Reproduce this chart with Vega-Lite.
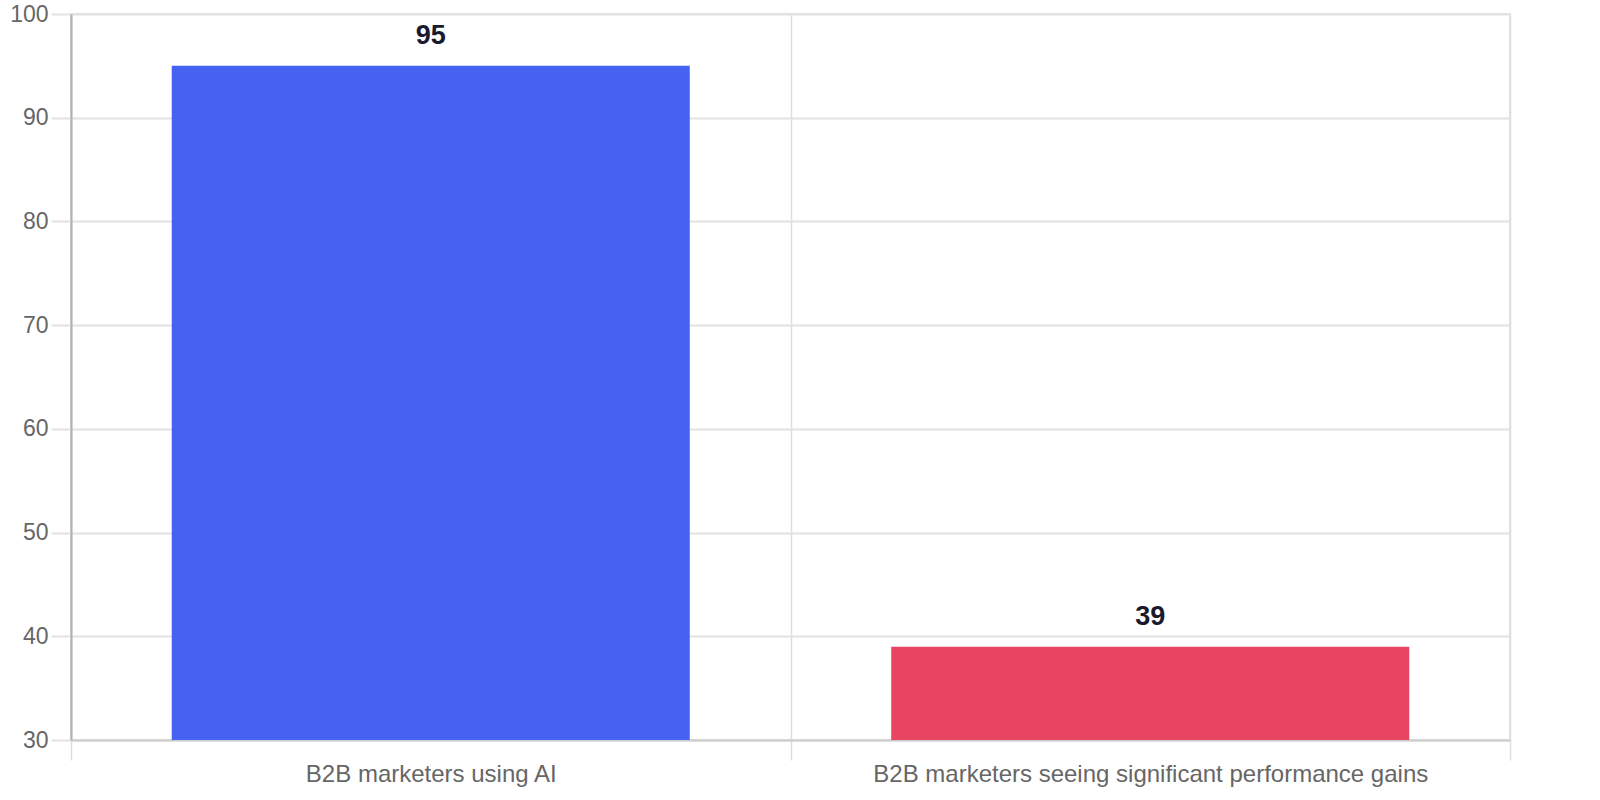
{
  "$schema": "https://vega.github.io/schema/vega-lite/v6.json",
  "autosize": {"type": "none"},
  "padding": {"left": 71, "top": 14, "right": 90, "bottom": 60},
  "width": 1439,
  "height": 726,
  "data": {
    "values": [
      {"group": "B2B marketers using AI", "value": 95},
      {"group": "B2B marketers seeing significant performance gains", "value": 39}
    ]
  },
  "encoding": {
    "x": {
      "field": "group",
      "type": "nominal",
      "sort": null,
      "title": null,
      "scale": {"paddingInner": 0, "paddingOuter": 0},
      "axis": {
        "tickBand": "extent",
        "grid": true,
        "gridColor": "#dddddd",
        "gridWidth": 1.5,
        "tickColor": "#dddddd",
        "tickWidth": 1.5,
        "tickSize": 20,
        "domainColor": "#cccccc",
        "domainWidth": 2,
        "labelAngle": 0,
        "labelLimit": 0,
        "labelFont": "Liberation Sans",
        "labelFontSize": 24,
        "labelColor": "#666666",
        "labelPadding": 2
      }
    },
    "y": {
      "field": "value",
      "type": "quantitative",
      "title": null,
      "scale": {"domain": [30, 100], "nice": false, "zero": false},
      "axis": {
        "values": [30, 40, 50, 60, 70, 80, 90, 100],
        "grid": true,
        "gridColor": "#e2e2e2",
        "gridWidth": 2,
        "tickColor": "#e2e2e2",
        "tickWidth": 2,
        "tickSize": 20,
        "domainColor": "#b0b0b0",
        "domainWidth": 2,
        "labelFont": "Liberation Sans",
        "labelFontSize": 23,
        "labelColor": "#666666",
        "labelPadding": 3
      }
    }
  },
  "layer": [
    {
      "mark": {"type": "bar", "width": {"band": 0.72}},
      "encoding": {
        "y2": {"datum": 30},
        "color": {
          "field": "group",
          "type": "nominal",
          "sort": null,
          "scale": {"range": ["#4562F2", "#E84562"]},
          "legend": null
        }
      }
    },
    {
      "mark": {
        "type": "text",
        "font": "Liberation Sans",
        "fontSize": 27,
        "fontWeight": "bold",
        "color": "#1a1a2e",
        "baseline": "alphabetic",
        "dy": -22
      },
      "encoding": {
        "text": {"field": "value", "type": "quantitative"}
      }
    }
  ],
  "config": {
    "view": {"stroke": "#e2e2e2", "strokeWidth": 2}
  }
}
